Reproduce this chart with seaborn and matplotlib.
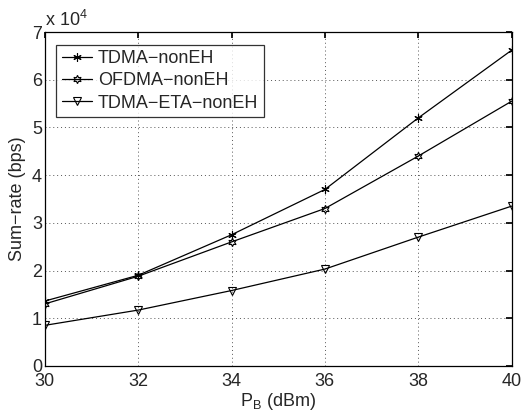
import matplotlib
matplotlib.use("Agg")
import matplotlib.pyplot as plt
import seaborn as sns
import pandas as pd

pb = [30, 32, 34, 36, 38, 40]
tdma = [1.36, 1.90, 2.75, 3.70, 5.20, 6.62]
ofdma = [1.30, 1.88, 2.60, 3.30, 4.40, 5.55]
tdma_eta = [0.85, 1.17, 1.58, 2.03, 2.70, 3.35]
series_names = ["TDMA\u2212nonEH", "OFDMA\u2212nonEH", "TDMA\u2212ETA\u2212nonEH"]
xticks = [30, 32, 34, 36, 38, 40]
yticks = [0, 1, 2, 3, 4, 5, 6, 7]

sns.set_theme(style="white")
plt.rcParams['font.family'] = ['Liberation Sans', 'DejaVu Sans']

fig = plt.figure(figsize=(5.22, 4.12), dpi=100)
ax = fig.add_axes([0.086, 0.112, 0.894, 0.81])

marker_list = [(6, 2, 0), (6, 1, 0), "v"]
for name, vals, mk in zip(series_names, [tdma, ofdma, tdma_eta], marker_list):
    d = pd.DataFrame({"pb": pb, "rate": [v * 1e4 for v in vals]})
    sns.lineplot(data=d, x="pb", y="rate", color="black", marker=mk,
                 linewidth=0.9, markersize=6 if mk != "v" else 5.5,
                 markerfacecolor="none", markeredgecolor="black",
                 markeredgewidth=0.8, ax=ax, label=name)

ax.set_xlim(30, 40)
ax.set_ylim(0, 7e4)
ax.set_xticks(xticks)
ax.set_yticks([t * 1e4 for t in yticks])
ax.set_xticklabels([str(t) for t in xticks])
ax.set_yticklabels([str(t) for t in yticks])
ax.tick_params(direction="in", labelsize=13, length=4, color="black", top=True, right=True, pad=2)
ax.tick_params(axis="x", pad=5)
ax.grid(True, linestyle=(0, (1, 3)), color="#555555", linewidth=0.7)
for s in ax.spines.values():
    s.set_color("black")
    s.set_linewidth(0.9)
ax.set_xlabel("P$_\\mathregular{B}$ (dBm)", fontsize=13, labelpad=1)
ax.set_ylabel("Sum\u2212rate (bps)", fontsize=13, labelpad=4)
ax.text(0.0, 1.005, "x 10$^\\mathregular{4}$", transform=ax.transAxes, fontsize=13, ha="left", va="bottom")

handles, labels = ax.get_legend_handles_labels()
leg = ax.legend(handles, labels, loc="upper left", bbox_to_anchor=(0.005, 0.99),
                fontsize=13, frameon=True, fancybox=False, edgecolor="black",
                handlelength=1.7, borderpad=0.3, labelspacing=0.3, handletextpad=0.3)
leg.get_frame().set_linewidth(0.9)

fig.savefig("out.png", dpi=100)
